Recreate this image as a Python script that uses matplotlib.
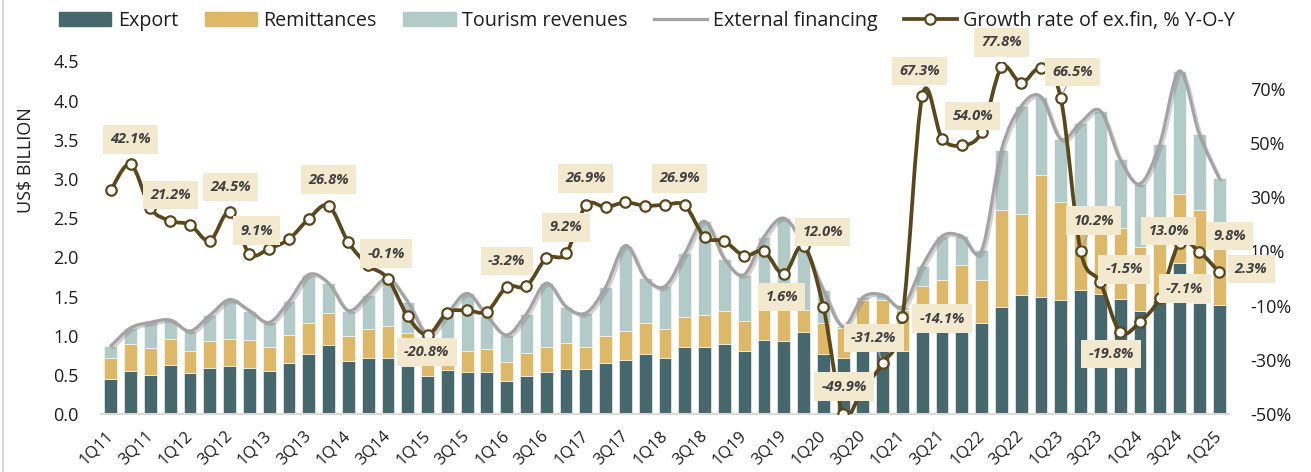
import numpy as np
import matplotlib
matplotlib.use("Agg")
import matplotlib.pyplot as plt
from matplotlib.path import Path
from matplotlib.patches import PathPatch, Patch
from matplotlib.lines import Line2D
import matplotlib.patheffects as pe

plt.rcParams['font.family'] = ['Open Sans', 'DejaVu Sans']

quarters = []
for yr in range(11, 26):
    for q in range(1, 5):
        quarters.append(f"{q}Q{yr}")
quarters = quarters[:57]

export = [0.45, 0.55, 0.50, 0.62, 0.52, 0.59, 0.61, 0.59, 0.55, 0.65, 0.77, 0.88,
          0.68, 0.71, 0.72, 0.61, 0.49, 0.56, 0.54, 0.54, 0.42, 0.49, 0.54, 0.58,
          0.57, 0.65, 0.69, 0.77, 0.72, 0.85, 0.85, 0.89, 0.81, 0.95, 0.93, 1.05,
          0.77, 0.71, 0.82, 0.84, 0.81, 1.05, 1.05, 1.05, 1.16, 1.37, 1.52, 1.49,
          1.45, 1.58, 1.53, 1.47, 1.31, 1.45, 1.93, 1.42, 1.39]
remittances = [0.26, 0.34, 0.34, 0.34, 0.29, 0.34, 0.35, 0.36, 0.31, 0.36, 0.39, 0.41,
               0.32, 0.37, 0.40, 0.43, 0.19, 0.28, 0.27, 0.29, 0.25, 0.29, 0.32, 0.33,
               0.29, 0.34, 0.37, 0.39, 0.36, 0.39, 0.41, 0.43, 0.38, 0.42, 0.49, 0.28,
               0.39, 0.39, 0.64, 0.62, 0.52, 0.58, 0.66, 0.85, 0.55, 1.24, 1.03, 1.56,
               1.26, 0.92, 0.95, 0.90, 0.82, 0.90, 0.88, 1.18, 0.86]
tourism = [0.16, 0.21, 0.33, 0.24, 0.25, 0.33, 0.50, 0.37, 0.31, 0.43, 0.62, 0.38,
           0.32, 0.44, 0.61, 0.39, 0.34, 0.44, 0.73, 0.42, 0.34, 0.50, 0.81, 0.46,
           0.43, 0.63, 1.09, 0.58, 0.55, 0.81, 1.20, 0.66, 0.59, 0.89, 1.08, 0.82,
           0.42, 0.02, 0.03, 0.06, 0.04, 0.26, 0.56, 0.37, 0.38, 0.76, 1.38, 1.00,
           0.80, 1.22, 1.39, 0.88, 0.81, 1.10, 1.57, 0.97, 0.76]
growth = [32.6, 42.1, 25.9, 21.2, 19.8, 13.9, 24.5, 9.1, 11.0, 14.5, 22.0, 26.8,
          13.3, 4.9, -0.1, -14.0, -20.8, -12.6, -11.8, -12.2, -3.2, -2.8, 7.4, 9.2,
          26.9, 26.3, 28.0, 26.8, 27.1, 26.9, 15.3, 13.7, 8.4, 10.0, 1.6, 12.0,
          -10.4, -49.9, -40.4, -31.2, -14.1, 67.3, 51.6, 49.1, 54.0, 77.8, 72.1, 77.5,
          66.5, 10.2, -1.5, -19.8, -16.0, -7.1, 13.0, 9.8, 2.3]

# labelled points: index -> (dx, dy) offset in pixels, leader line flag
label_idx = [1, 3, 6, 7, 11, 14, 16, 20, 23, 24, 29, 34, 35, 37, 39, 40, 41, 44,
             45, 48, 49, 50, 51, 53, 54, 55, 56]
label_off = [(0, 25), (0, 26), (1, 25), (7, 23), (0, 26), (-2, 25), (-1, -17), (0, 26),
             (0, 26), (0, 27), (-5, 27), (-2, -23), (19, 14), (1, 27), (-9, 25), (40, -2),
             (-3, 25), (-9, 16), (0, 25), (12, 26), (13, 30), (24, 13), (-9, -22),
             (25, 9), (-11, 12), (30, 16), (32, 3)]
leader = {39, 48, 49}

C_EXP = '#46686C'
C_REM = '#DDB869'
C_TOU = '#B3CBC8'
C_EXT = '#A3A3A3'
C_GR = '#5A471B'
TXT = '#1E1E1E'

W, H = 1311, 472
fig = plt.figure(figsize=(W / 100, H / 100), dpi=100)
ax = fig.add_axes([101 / W, 1 - 414 / H, (1229 - 101) / W, (414 - 61.5) / H])

x = np.arange(len(quarters))
exp_a = np.array(export)
rem_a = np.array(remittances)
tou_a = np.array(tourism)
total = exp_a + rem_a + tou_a

bw = 0.65
ax.bar(x, exp_a, bw, color=C_EXP, edgecolor='white', linewidth=0.4, zorder=2)
ax.bar(x, rem_a, bw, bottom=exp_a, color=C_REM, edgecolor='white', linewidth=0.4, zorder=2)
ax.bar(x, tou_a, bw, bottom=exp_a + rem_a, color=C_TOU, edgecolor='white', linewidth=0.4, zorder=2)


def smooth_path(xs, ys):
    xs = np.asarray(xs, float)
    ys = np.asarray(ys, float)
    n = len(xs)
    verts = [(xs[0], ys[0])]
    codes = [Path.MOVETO]
    for i in range(n - 1):
        p0 = i - 1 if i > 0 else i
        p3 = i + 2 if i + 2 < n else i + 1
        c1 = (xs[i] + (xs[i + 1] - xs[p0]) / 6, ys[i] + (ys[i + 1] - ys[p0]) / 6)
        c2 = (xs[i + 1] - (xs[p3] - xs[i]) / 6, ys[i + 1] - (ys[p3] - ys[i]) / 6)
        verts += [c1, c2, (xs[i + 1], ys[i + 1])]
        codes += [Path.CURVE4] * 3
    return Path(verts, codes)


ext_patch = PathPatch(smooth_path(x, total), fill=False, edgecolor=C_EXT, lw=2.3, zorder=3,
                      capstyle='round', joinstyle='round')
ext_patch.set_path_effects([pe.SimpleLineShadow(offset=(1.5, -1.5), shadow_color='#808080', alpha=0.35),
                            pe.Normal()])
ax.add_patch(ext_patch)

ax.set_xlim(-0.5, len(x) - 0.5)
ax.set_ylim(0, 4.5)
ax.set_yticks(np.arange(0, 4.51, 0.5))
ax.set_yticklabels([f"{v:.1f}" for v in np.arange(0, 4.51, 0.5)])
ax.set_xticks(x[::2])
ax.set_xticklabels(quarters[::2], rotation=45, ha='right', va='center', rotation_mode='anchor')
ax.tick_params(axis='y', length=0, pad=16, labelsize=13, labelcolor=TXT)
ax.tick_params(axis='x', length=0, pad=14, labelsize=12, labelcolor=TXT)
for s in ['top', 'right', 'left']:
    ax.spines[s].set_visible(False)
ax.spines['bottom'].set_color('#D9D9D9')
ax.spines['bottom'].set_linewidth(1.5)

ax2 = ax.twinx()
ax2.set_ylim(-50, 80)
ax2.set_yticks(np.arange(-50, 71, 20))
ax2.set_yticklabels([f"{v}%" for v in range(-50, 71, 20)])
ax2.tick_params(axis='y', length=0, pad=15, labelsize=13, labelcolor=TXT)
for s in ax2.spines.values():
    s.set_visible(False)

gr_patch = PathPatch(smooth_path(x, growth), fill=False, edgecolor=C_GR, lw=2.7, zorder=4,
                     capstyle='round', joinstyle='round')
ax2.add_patch(gr_patch)
ax2.plot(x, growth, linestyle='none', marker='o', ms=7.5, mfc='white', mec=C_GR, mew=1.6, zorder=5)

for i, (dx, dy) in zip(label_idx, label_off):
    kw = {}
    if i in leader:
        kw['arrowprops'] = dict(arrowstyle='-', color='#A6A6A6', lw=1.0, shrinkA=0, shrinkB=4)
    ax2.annotate(f"{growth[i]:.1f}%", xy=(i, growth[i]), xytext=(dx, dy), textcoords='offset pixels',
                 ha='center', va='center', fontsize=10.5, fontweight='bold', style='italic',
                 color='#404040', zorder=6,
                 bbox=dict(boxstyle='square,pad=0.5', fc='#F3E9CF', ec='none'), **kw)

fig.text(26 / W, 1 - 160 / H, 'US$ BILLION', rotation=90, ha='center', va='center',
         fontsize=13, color=TXT)

handles = [Patch(color=C_EXP), Patch(color=C_REM), Patch(color=C_TOU),
           Line2D([], [], color=C_EXT, lw=2.3),
           Line2D([], [], color=C_GR, lw=2.7, marker='o', ms=7.5, mfc='white', mec=C_GR, mew=1.6)]
labels = ['Export', 'Remittances', 'Tourism revenues', 'External financing',
          'Growth rate of ex.fin, % Y-O-Y']
fig.legend(handles, labels, loc='upper left', bbox_to_anchor=(59 / W, 1 - 11 / H), ncol=5,
           frameon=False, fontsize=14.2, handlelength=2.65, handleheight=0.7, handletextpad=0.33,
           columnspacing=1.35, borderpad=0, borderaxespad=0, labelcolor=TXT)

fig.add_artist(Line2D([3 / W, 3 / W], [0, 1], transform=fig.transFigure, color='#D9D9D9', lw=1.5))

fig.savefig('out.png', dpi=100, facecolor='white')
